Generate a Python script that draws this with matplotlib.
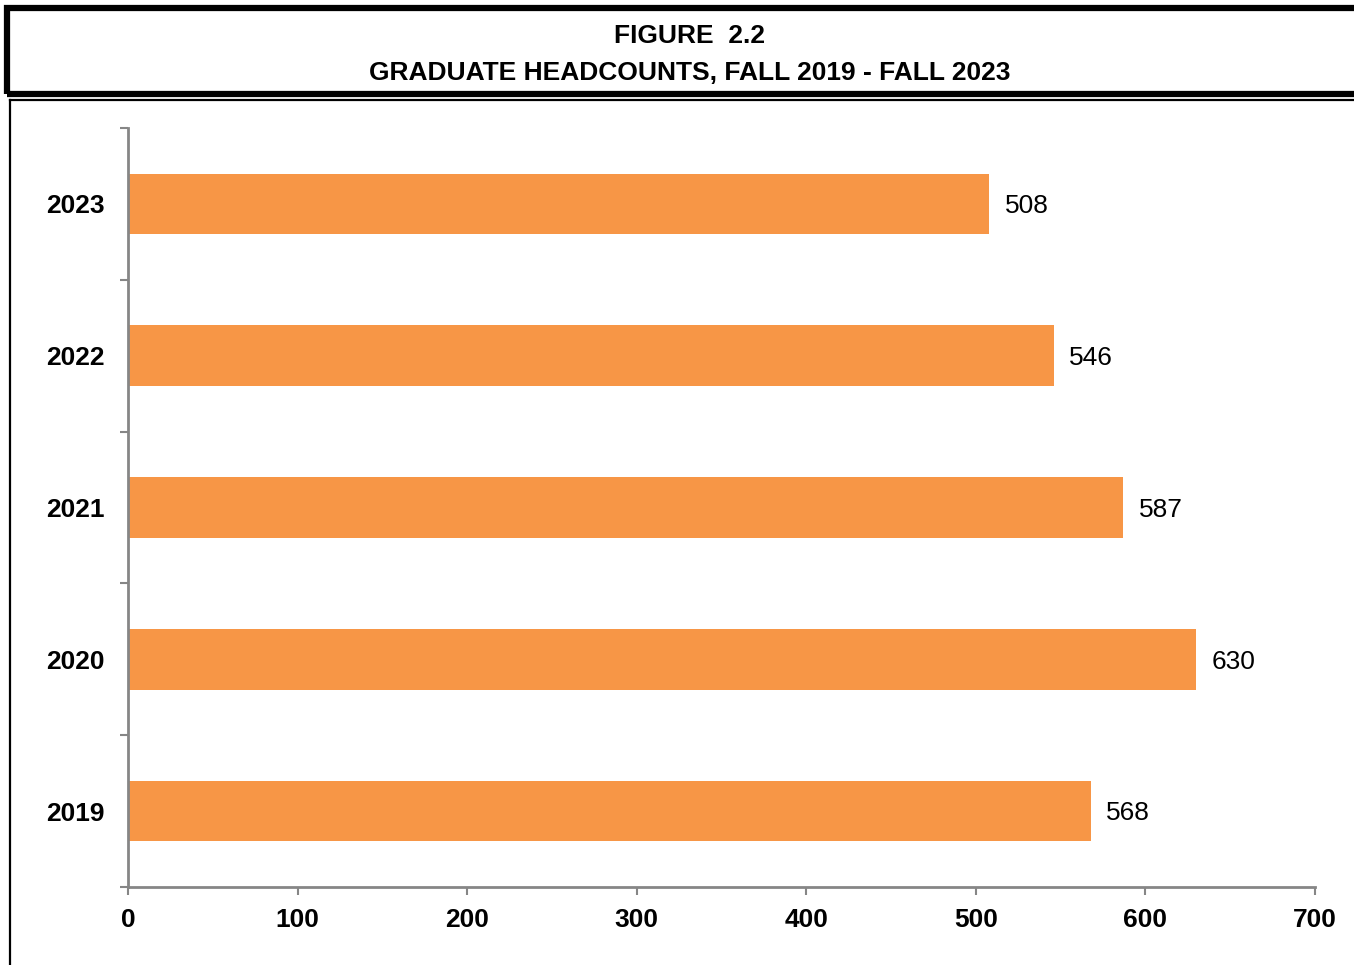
"""
Figure 2.2 - graduate headcounts, fall 2019 - fall 2023
"""
import matplotlib.pyplot as plt
from matplotlib.patches import Rectangle
from matplotlib.lines import Line2D

plt.rcParams['font.family'] = ['Liberation Sans', 'DejaVu Sans']

# DATA
years = ['2019', '2020', '2021', '2022', '2023']
headcounts = [568, 630, 587, 546, 508]
x_ticks = [0, 100, 200, 300, 400, 500, 600, 700]

BAR_COLOR = '#F79646'
AXIS_COLOR = '#868686'
FS = 19

fig = plt.figure(figsize=(13.54, 9.65), dpi=100)

# title box
W, H = 1354, 965
fig.patches.append(Rectangle((7 / W, 1 - 94 / H), 1.0, 86 / H, transform=fig.transFigure,
                             fill=False, edgecolor='black', linewidth=4.5))
# outer chart frame (top and left edges)
fig.lines.append(Line2D([10 / W, 10 / W], [0, 1 - 100 / H], transform=fig.transFigure,
                        color='black', linewidth=1.6))
fig.lines.append(Line2D([10 / W, 1], [1 - 100 / H, 1 - 100 / H], transform=fig.transFigure,
                        color='black', linewidth=1.6))

fig.text(690 / W, 1 - 36 / H, 'FIGURE  2.2', ha='center', va='center',
         fontsize=FS, fontweight='bold')
fig.text(690 / W, 1 - 73 / H, 'GRADUATE HEADCOUNTS, FALL 2019 - FALL 2023', ha='center',
         va='center', fontsize=FS, fontweight='bold')

ax = fig.add_axes([128 / W, 1 - 887 / H, (1315 - 128) / W, (887 - 128) / H])

pos = range(len(years))
bars = ax.barh(pos, headcounts, height=0.4, color=BAR_COLOR)
for b, v in zip(bars, headcounts):
    ax.text(v + 9, b.get_y() + b.get_height() / 2 - 0.015, str(v), va='center', ha='left',
            fontsize=FS)

ax.set_xlim(0, 700)
ax.set_ylim(-0.5, len(years) - 0.5)
ax.set_xticks(x_ticks)
ax.set_xticklabels([str(t) for t in x_ticks], fontsize=FS, fontweight='bold')
ax.set_yticks(list(pos))
ax.set_yticklabels(years, fontsize=FS, fontweight='bold')
ax.set_yticks([i - 0.5 for i in range(len(years) + 1)], minor=True)

ax.tick_params(axis='y', which='major', length=0, pad=17)
ax.tick_params(axis='y', which='minor', length=6, width=1.5, color=AXIS_COLOR)
ax.tick_params(axis='x', length=6, width=1.5, color=AXIS_COLOR, pad=9)

for side in ['top', 'right']:
    ax.spines[side].set_visible(False)
for side in ['left', 'bottom']:
    ax.spines[side].set_color(AXIS_COLOR)
    ax.spines[side].set_linewidth(2)

fig.savefig('out.png', dpi=100)
